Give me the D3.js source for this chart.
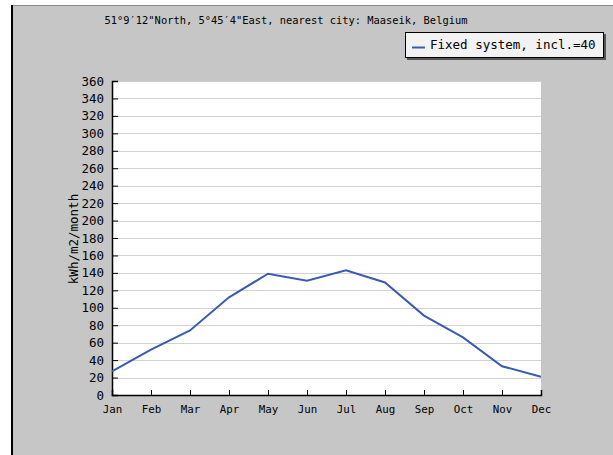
<!DOCTYPE html>
<html><head><meta charset="utf-8">
<script src="https://cdn.jsdelivr.net/npm/d3@7"></script>
<style>html,body{margin:0;padding:0;background:#fff;}svg{display:block;}</style>
</head><body>
<script>
const months = ["Jan","Feb","Mar","Apr","May","Jun","Jul","Aug","Sep","Oct","Nov","Dec"];
const values = [27, 52, 74, 112, 139, 131, 143, 129, 91, 66, 33, 21];
const yTicks = d3.range(0, 361, 20);
const titleText = "51°9′12\"North, 5°45′4\"East, nearest city: Maaseik, Belgium";
const legendText = "Fixed system, incl.=40";
const yTitle = "kWh/m2/month";

const W = 613, H = 455;
const svg = d3.select("body").append("svg").attr("width", W).attr("height", H);
const mono = "'DejaVu Sans Mono', monospace";

// outer frame
svg.append("rect").attr("x", 11).attr("y", 5).attr("width", W - 11).attr("height", H - 5).attr("fill", "#c6c6c6");
svg.append("line").attr("x1", 11).attr("x2", W).attr("y1", 5.5).attr("y2", 5.5).attr("stroke", "#8a8a8a");
svg.append("line").attr("x1", 12).attr("x2", 12).attr("y1", 5).attr("y2", H).attr("stroke", "#000").attr("stroke-width", 2);

const L = 112, R = 541, T = 81, B = 395;
const x = d3.scalePoint().domain(months).range([L, R]);
const y = d3.scaleLinear().domain([0, 360]).range([B, T]);

svg.append("rect").attr("x", L).attr("y", T).attr("width", R - L).attr("height", B - T).attr("fill", "#fff");

// grid
svg.append("g").selectAll("line").data(yTicks.filter(d => d > 0)).join("line")
  .attr("x1", L).attr("x2", R).attr("y1", d => Math.round(y(d)) + 0.5).attr("y2", d => Math.round(y(d)) + 0.5)
  .attr("stroke", "#d2d2d2").attr("stroke-width", 1.2);

// y axis
const yAxis = d3.axisLeft(y).tickValues(yTicks).tickSize(-6).tickPadding(8).tickFormat(d3.format("d"));
const gy = svg.append("g").attr("transform", `translate(${L},0)`).call(yAxis);
gy.select(".domain").attr("stroke", "#000").attr("stroke-width", 1.5);
gy.selectAll(".tick line").attr("stroke", "#000");
gy.selectAll("text").attr("font-family", mono).attr("font-size", "12.5px").attr("fill", "#000");

// x axis
const xAxis = d3.axisBottom(x).tickSize(-5).tickPadding(10);
const gx = svg.append("g").attr("transform", `translate(0,${B})`).call(xAxis);
gx.select(".domain").attr("stroke", "#000").attr("stroke-width", 1.5);
gx.selectAll(".tick line").attr("stroke", "#000");
gx.selectAll("text").attr("font-family", mono).attr("font-size", "10.8px").attr("fill", "#000");

// y title
svg.append("text").attr("transform", `translate(78,${239}) rotate(-90)`)
  .attr("text-anchor", "middle").attr("font-family", mono).attr("font-size", "12.5px").text(yTitle);

// line
svg.append("path").datum(values)
  .attr("d", d3.line().x((d, i) => x(months[i])).y(d => y(d)))
  .attr("fill", "none").attr("stroke", "#3a5cb0").attr("stroke-width", 2);

// title
svg.append("text").attr("x", 286).attr("y", 24).attr("text-anchor", "middle")
  .attr("font-family", mono).attr("font-size", "10.4px").text(titleText);

// legend
svg.append("rect").attr("x", 407).attr("y", 34).attr("width", 199).attr("height", 26).attr("fill", "#555");
svg.append("rect").attr("x", 405.5).attr("y", 32.5).attr("width", 198).attr("height", 25).attr("fill", "#f2f2f2").attr("stroke", "#000");
svg.append("line").attr("x1", 412).attr("x2", 425).attr("y1", 47.5).attr("y2", 47.5).attr("stroke", "#3a5cb0").attr("stroke-width", 2);
svg.append("text").attr("x", 430).attr("y", 49).attr("font-family", mono).attr("font-size", "12.5px").text(legendText);
</script>
</body></html>
